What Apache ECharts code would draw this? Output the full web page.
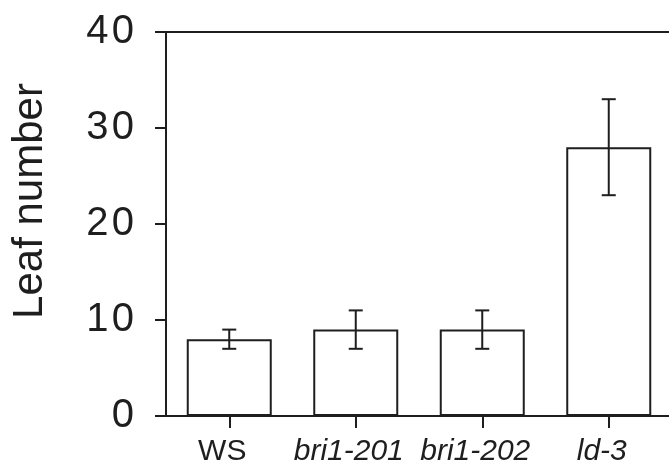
<!DOCTYPE html>
<html>
<head>
<meta charset="utf-8">
<script src="https://cdn.jsdelivr.net/npm/echarts@6/dist/echarts.min.js"></script>
<style>
  html, body { margin: 0; padding: 0; background: #fff; }
  #chart { width: 669px; height: 464px; }
</style>
</head>
<body>
<div id="chart"></div>
<script>
// Genotypes on the x axis
const categories = ['WS', 'bri1-201', 'bri1-202', 'ld-3'];
// Mean leaf number per genotype
const means = [8, 9, 9, 28];
// Error (± half-range) per genotype
const errors = [1, 2, 2, 5];
// Y axis ticks
const yTicks = [0, 10, 20, 30, 40];
// Mutant names are set in italics
const italicNames = ['bri1-201', 'bri1-202', 'ld-3'];

const ink = '#1e1e1e';
const font = '"Liberation Sans", Arial, Helvetica, sans-serif';

const chart = echarts.init(document.getElementById('chart'), null, { renderer: 'canvas' });

chart.setOption({
  animation: false,
  backgroundColor: '#fff',
  grid: {
    left: 166, top: 32, width: 506, height: 384,
    outerBoundsMode: 'none',
    containLabel: false,
    show: false
  },
  xAxis: [
    {
      type: 'category',
      data: categories,
      axisLine: { lineStyle: { color: ink, width: 2 } },
      axisTick: { show: true, alignWithLabel: true, length: 12, lineStyle: { color: ink, width: 2 } },
      axisLabel: {
        margin: 21,
        interval: 0,
        padding: [0, 14, 0, 0],
        color: ink,
        fontFamily: font,
        fontSize: 30,
        formatter: function (v) {
          return italicNames.indexOf(v) >= 0 ? '{it|' + v + '}' : '{up|' + v + '}';
        },
        rich: {
          it: { fontStyle: 'italic', fontFamily: font, fontSize: 30, color: ink },
          up: { fontFamily: font, fontSize: 30, color: ink }
        }
      }
    },
    {
      // frame line along the top of the plot
      type: 'category',
      data: categories,
      position: 'top',
      axisLine: { show: true, lineStyle: { color: ink, width: 2 } },
      axisTick: { show: false },
      axisLabel: { show: false }
    }
  ],
  yAxis: {
    type: 'value',
    min: yTicks[0],
    max: yTicks[yTicks.length - 1],
    interval: 10,
    name: 'Leaf number',
    nameLocation: 'middle',
    nameGap: 115,
    nameTextStyle: { color: ink, fontFamily: font, fontSize: 42, padding: [0, 0, 0, 46] },
    axisLine: { show: true, lineStyle: { color: ink, width: 2 } },
    axisTick: { show: true, length: 11, lineStyle: { color: ink, width: 2 } },
    splitLine: { show: false },
    axisLabel: {
      margin: 32,
      color: ink,
      fontFamily: font,
      fontSize: 40,
      formatter: function (v) { return String(v).split('').join('\u200A'); }
    }
  },
  series: [
    {
      type: 'bar',
      data: means,
      barWidth: 85,
      itemStyle: { color: '#fff', borderColor: ink, borderWidth: 2 },
      z: 2
    },
    {
      type: 'custom',
      z: 3,
      data: means.map(function (m, i) { return [i, m - errors[i], m + errors[i]]; }),
      renderItem: function (params, api) {
        const x = api.value(0);
        const lo = api.coord([x, api.value(1)]);
        const hi = api.coord([x, api.value(2)]);
        const cap = 7;
        const style = { stroke: ink, lineWidth: 2, fill: null };
        return {
          type: 'group',
          children: [
            { type: 'line', shape: { x1: hi[0], y1: hi[1], x2: lo[0], y2: lo[1] }, style: style },
            { type: 'line', shape: { x1: hi[0] - cap, y1: hi[1], x2: hi[0] + cap, y2: hi[1] }, style: style },
            { type: 'line', shape: { x1: lo[0] - cap, y1: lo[1], x2: lo[0] + cap, y2: lo[1] }, style: style }
          ]
        };
      }
    }
  ]
});
</script>
</body>
</html>
